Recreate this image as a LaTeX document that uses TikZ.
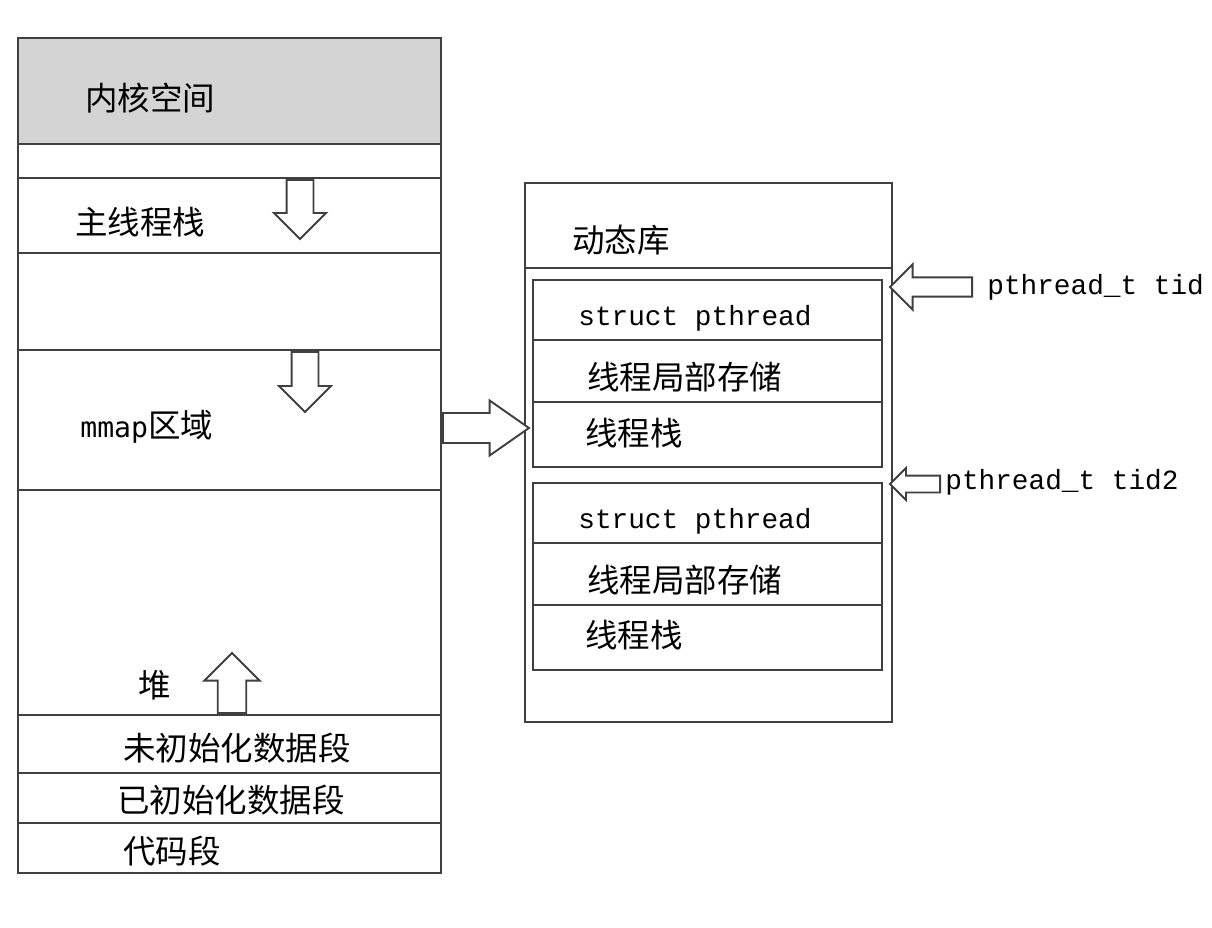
\documentclass[tikz,border=0pt]{standalone}
\usepackage{fontspec}
\setmainfont{Noto Sans CJK SC}
\newfontfamily\codefont{Liberation Mono}
\newfontfamily\asciifont{DejaVu Sans Mono}
\usepackage{tikz}
\usetikzlibrary{shapes.arrows, positioning}

\tikzset{
  txt/.style={anchor=west, font=\fontsize{18.5}{22}\selectfont, inner sep=0pt},
  code/.style={anchor=west, font=\codefont\fontsize{15.8}{18}\selectfont, inner sep=0pt},
  blk/.style={single arrow, draw=black!75, fill=white, line width=1.1pt, inner xsep=0pt,
    single arrow head extend=0.25cm, anchor=tail},
  seg/.style={draw=black!75, line width=1.1pt}
}

\begin{document}
\begin{tikzpicture}[x=0.02cm, y=-0.02cm]

\useasboundingbox (0,0) rectangle (1212,927);

%// process address space
\fill[black!17] (18,38) rectangle (441,144);
\draw[seg] (18,38) rectangle (441,873);
\foreach \y in {144,178,253,350,490,715,773,823}
\draw[seg] (18,\y) -- (441,\y);

\node [txt] (kernel) at (85,98) {内核空间};
\node [txt] (mainstack) at (75,222) {主线程栈};
\node [txt] (mmap) at (80,427) {{\asciifont\fontsize{16}{20}\selectfont mmap}区域};
\node [txt] (heap) at (138,685) {堆};
\node [txt] (bss) at (123,748) {未初始化数据段};
\node [txt] (data) at (117,800) {已初始化数据段};
\node [txt] (text) at (123,851) {代码段};

%// growth arrows
\node [blk, rotate=-90, minimum height=1.18cm, minimum width=1cm, inner ysep=0.25cm] (down1) at (300,179) {};
\node [blk, rotate=-90, minimum height=1.2cm, minimum width=1cm, inner ysep=0.25cm] (down2) at (305,351) {};
\node [blk, rotate=90, minimum height=1.2cm, minimum width=1.1cm, inner ysep=0.25cm] (up) at (232,714) {};

%// dynamic library area
\draw[seg] (525,183) rectangle (892,722);
\draw[seg] (525,268) -- (892,268);
\node [txt] (dynlib) at (572,240) {动态库};

\def\ytop{280}
\draw[seg] (533,\ytop) rectangle (882,\ytop+187);
\foreach \y in {60,122}
\draw[seg] (533,\ytop+\y) -- (882,\ytop+\y);
\node [code] (pt1) at (578,\ytop+38) {struct pthread};
\node [txt] (tls1) at (587,\ytop+97) {线程局部存储};
\node [txt] (stk1) at (585,\ytop+153) {线程栈};

\def\ytop{483}
\draw[seg] (533,\ytop) rectangle (882,\ytop+187);
\foreach \y in {60,122}
\draw[seg] (533,\ytop+\y) -- (882,\ytop+\y);
\node [code] (pt2) at (578,\ytop+38) {struct pthread};
\node [txt] (tls2) at (587,\ytop+97) {线程局部存储};
\node [txt] (stk2) at (585,\ytop+152) {线程栈};

%// pointers
\node [blk, minimum height=1.72cm, minimum width=1.1cm, inner ysep=0.28cm, single arrow tip angle=70] (tomap) at (442,428) {};
\node [code] (tid) at (987,287) {pthread\_t tid};
\node [blk, rotate=180, minimum height=1.64cm, minimum width=0.9cm, inner ysep=0.17cm] (tidarr) at (973,287) {};
\node [code] (tid2) at (945,482) {pthread\_t tid2};
\node [blk, rotate=180, minimum height=1cm, minimum width=0.6cm, inner ysep=0.15cm, single arrow head extend=0.15cm] (tid2arr) at (941,484) {};

\end{tikzpicture}
\end{document}
